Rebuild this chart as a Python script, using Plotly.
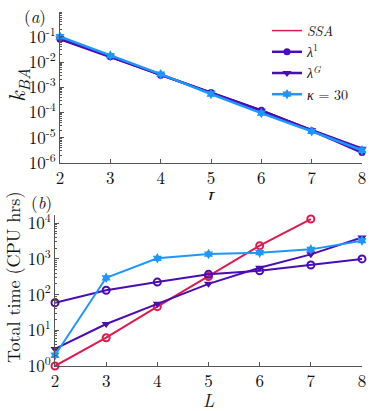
import plotly.graph_objects as go

W, H = 374, 411

L_vals = [2, 3, 4, 5, 6, 7, 8]

# Panel (a): rate constant k_BA
k_ssa = [0.088, 0.017, 0.0030, 0.00060, 0.000120, 0.000021, 0.0000035]
k_lam1 = [0.080, 0.016, 0.0030, 0.00062, 0.000122, 0.000019, 0.0000026]
k_lamG = [0.085, 0.016, 0.0030, 0.00060, 0.000118, 0.000020, 0.0000037]
k_kappa = [0.100, 0.018, 0.0033, 0.00054, 0.000095, 0.000018, 0.0000032]

# Panel (b): total CPU time (hrs)
L_ssa = [2, 3, 4, 5, 6, 7]
t_ssa = [1.0, 6.2, 46, 320, 2340, 13100]
t_lam1 = [59, 132, 224, 370, 465, 675, 1000]
t_lamG = [3.0, 15, 55, 200, 565, 1340, 4000]
t_kappa = [2.0, 296, 1040, 1370, 1490, 1850, 3250]

top_ticks = [1e-6, 1e-5, 1e-4, 1e-3, 1e-2, 1e-1]
top_ticktext = ["10<sup>-6</sup>", "10<sup>-5</sup>", "10<sup>-4</sup>",
                "10<sup>-3</sup>", "10<sup>-2</sup>", "10<sup>-1</sup>"]
bot_ticks = [1, 10, 100, 1000, 10000]
bot_ticktext = ["10<sup>0</sup>", "10<sup>1</sup>", "10<sup>2</sup>",
                "10<sup>3</sup>", "10<sup>4</sup>"]

top_minor = [m * 10.0 ** e for e in range(-6, 0) for m in range(2, 10)]
bot_minor = [m * 10.0 ** e for e in range(0, 5) for m in range(2, 10)]

RED = "#DF1A4E"
PURPLE = "#4A0CB4"
BLUE = "#1E96FF"
AXC = "#555555"
FONT = "Latin Modern Roman"
TXT = "#111111"

names = ["<i>SSA</i>", "<i>λ</i><sup>1</sup>", "<i>λ</i><sup><i>G</i></sup>",
         "<i>κ</i> = 30"]


def px_x(a, b):
    return [a / W, b / W]


def px_y(top, bottom):
    return [1 - bottom / H, 1 - top / H]


fig = go.Figure()

# ---- panel (a)
fig.add_trace(go.Scatter(x=L_vals, y=k_ssa, mode="lines", name=names[0],
                         line=dict(color=RED, width=1.5), xaxis="x", yaxis="y",
                         cliponaxis=False))
fig.add_trace(go.Scatter(x=L_vals, y=k_lam1, mode="lines+markers", name=names[1],
                         line=dict(color=PURPLE, width=2.5),
                         marker=dict(symbol="circle", size=7, color=PURPLE),
                         xaxis="x", yaxis="y", cliponaxis=False))
fig.add_trace(go.Scatter(x=L_vals, y=k_lamG, mode="lines+markers", name=names[2],
                         line=dict(color=PURPLE, width=2.5),
                         marker=dict(symbol="triangle-down", size=8, color=PURPLE),
                         xaxis="x", yaxis="y", cliponaxis=False))
fig.add_trace(go.Scatter(x=L_vals, y=k_kappa, mode="lines+markers", name=names[3],
                         line=dict(color=BLUE, width=2.5),
                         marker=dict(symbol="hexagram", size=8, color=BLUE),
                         xaxis="x", yaxis="y", cliponaxis=False))

# ---- panel (b)
fig.add_trace(go.Scatter(x=L_ssa, y=t_ssa, mode="lines+markers", showlegend=False,
                         line=dict(color=RED, width=2),
                         marker=dict(symbol="circle-open", size=7, color=RED, line=dict(width=2)),
                         xaxis="x2", yaxis="y2", cliponaxis=False))
fig.add_trace(go.Scatter(x=L_vals, y=t_lam1, mode="lines+markers", showlegend=False,
                         line=dict(color=PURPLE, width=2),
                         marker=dict(symbol="circle-open", size=7, color=PURPLE, line=dict(width=2)),
                         xaxis="x2", yaxis="y2", cliponaxis=False))
fig.add_trace(go.Scatter(x=L_vals, y=t_lamG, mode="lines+markers", showlegend=False,
                         line=dict(color=PURPLE, width=2),
                         marker=dict(symbol="triangle-down", size=8, color=PURPLE),
                         xaxis="x2", yaxis="y2", cliponaxis=False))
fig.add_trace(go.Scatter(x=L_vals, y=t_kappa, mode="lines+markers", showlegend=False,
                         line=dict(color=BLUE, width=2),
                         marker=dict(symbol="hexagram", size=8, color=BLUE),
                         xaxis="x2", yaxis="y2", cliponaxis=False))

# ---- partially hidden x label of panel (a), clipped by a small subplot
fig.add_trace(go.Scatter(x=[0.5], y=[0.40], mode="text", text=["<i>L</i>"],
                         textfont=dict(family=FONT, size=20, color=TXT),
                         textposition="bottom center", showlegend=False,
                         xaxis="x3", yaxis="y3", cliponaxis=True, hoverinfo="skip"))

common_x = dict(range=[2, 8], tickvals=L_vals, ticks="inside", ticklen=4,
                tickcolor=AXC, showline=True, linecolor=AXC, linewidth=1,
                showgrid=False, zeroline=False,
                tickfont=dict(family=FONT, size=17, color=TXT), automargin=False)
common_y = dict(type="log", ticks="inside", ticklen=4, tickcolor=AXC,
                showline=True, linecolor=AXC, linewidth=1, showgrid=False,
                zeroline=False, tickfont=dict(family=FONT, size=17, color=TXT),
                automargin=False)

fig.update_layout(
    width=W, height=H,
    margin=dict(l=0, r=0, t=0, b=0),
    paper_bgcolor="white", plot_bgcolor="white",
    font=dict(family=FONT, color=TXT),
    xaxis=dict(domain=px_x(60, 362), anchor="y", **common_x),
    yaxis=dict(domain=px_y(11.5, 163), anchor="x", range=[-6, 0],
               tickvals=top_ticks, ticktext=top_ticktext,
               minor=dict(tickvals=top_minor, ticks="inside", ticklen=2,
                          tickcolor=AXC, showgrid=False),
               **common_y),
    xaxis2=dict(domain=px_x(55, 362), anchor="y2", **common_x),
    yaxis2=dict(domain=px_y(215, 366), anchor="x2", range=[0, 4.23],
                tickvals=bot_ticks, ticktext=bot_ticktext,
                minor=dict(tickvals=bot_minor, ticks="inside", ticklen=2,
                           tickcolor=AXC, showgrid=False),
                **common_y),
    xaxis3=dict(domain=px_x(60, 362), anchor="y3", range=[0, 1], visible=False),
    yaxis3=dict(domain=px_y(178, 200), anchor="x3", range=[0, 1], visible=False),
    showlegend=True,
    legend=dict(x=267 / W, y=1 - 15 / H, xanchor="left", yanchor="top",
                bgcolor="rgba(0,0,0,0)", borderwidth=0,
                font=dict(family=FONT, size=14, color=TXT),
                itemwidth=30, tracegroupgap=0),
    annotations=[
        dict(text="(<i>a</i>)", x=22 / W, y=1 - 2 / H, xref="paper", yref="paper",
             xanchor="left", yanchor="top", showarrow=False,
             font=dict(family=FONT, size=17, color=TXT)),
        dict(text="(<i>b</i>)", x=29 / W, y=1 - 188 / H, xref="paper", yref="paper",
             xanchor="left", yanchor="top", showarrow=False,
             font=dict(family=FONT, size=17, color=TXT)),
        dict(text="<i>k</i><sub><i>BA</i></sub>", x=17 / W, y=1 - 85 / H,
             xref="paper", yref="paper", xanchor="center", yanchor="middle",
             textangle=-90, showarrow=False,
             font=dict(family=FONT, size=23, color=TXT)),
        dict(text="Total time (CPU hrs)", x=12 / W, y=1 - 278 / H,
             xref="paper", yref="paper", xanchor="center", yanchor="middle",
             textangle=-90, showarrow=False,
             font=dict(family=FONT, size=18, color=TXT)),
        dict(text="<i>L</i>", x=209 / W, y=1 - 399 / H,
             xref="paper", yref="paper", xanchor="center", yanchor="middle",
             showarrow=False, font=dict(family=FONT, size=18, color=TXT)),
    ],
)

fig.write_html("out.html", config=dict(displayModeBar=False),
               post_script="document.body.style.margin='0';document.body.style.padding='0';")
